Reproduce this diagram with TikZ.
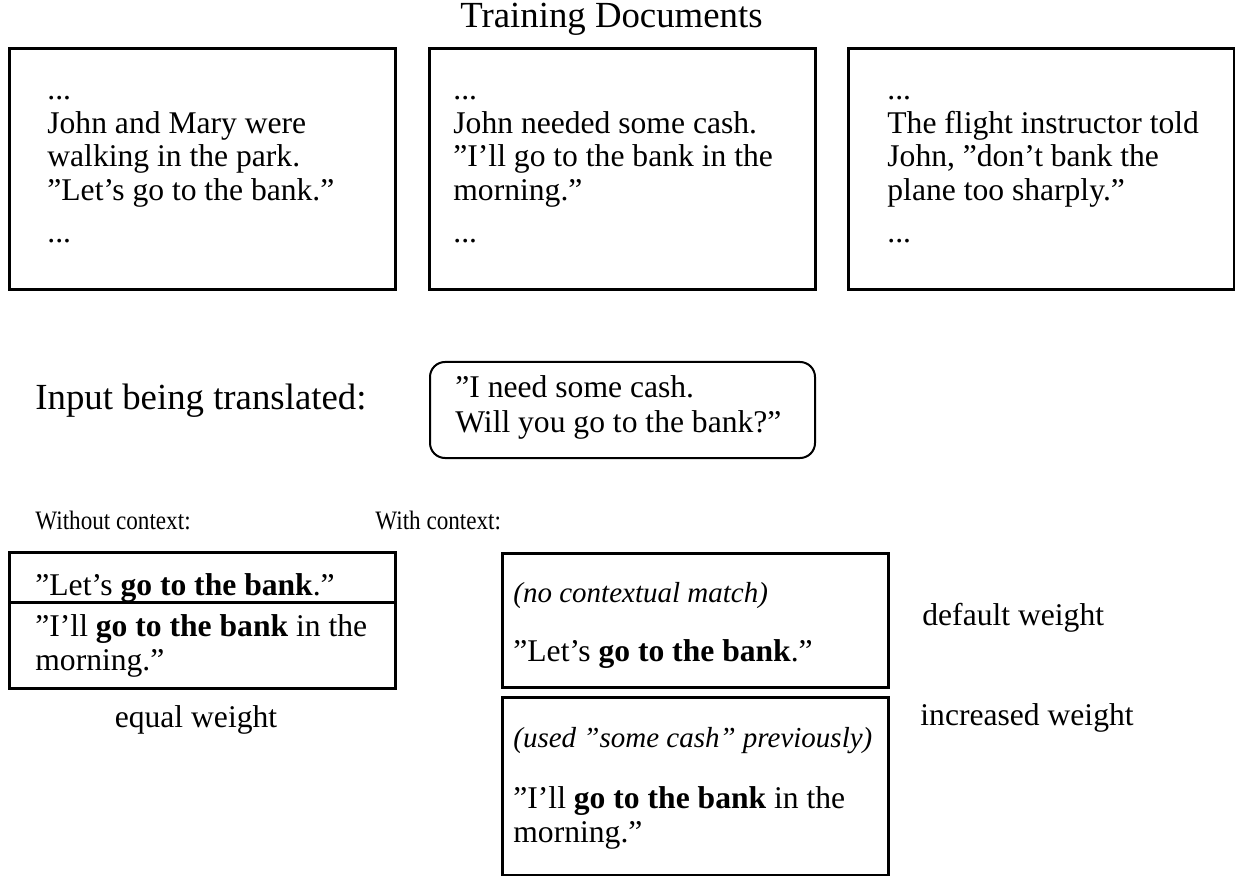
\documentclass[tikz,border=0pt]{standalone}
\usepackage{fontspec}
\setmainfont{Liberation Serif}
\newfontfamily\narrowfont[FakeStretch=0.87]{Liberation Serif}
\usetikzlibrary{positioning, calc}
\tikzset{
  docbox/.style={draw,line width=1.5pt,minimum width=193pt,minimum height=120.5pt,anchor=north west,inner sep=0pt,outer sep=0pt},
  inbox/.style={draw,line width=1pt,rounded corners=7.5pt,minimum width=192.5pt,minimum height=48pt,anchor=north west,inner sep=0pt,outer sep=0pt},
  candbox/.style={draw,line width=1.5pt,minimum width=193pt,anchor=north west,inner sep=0pt,outer sep=0pt},
  txt/.style={anchor=base west,inner sep=0pt,align=left,font=\fontsize{15.8}{16.75}\selectfont},
  note/.style={txt,font=\fontsize{14.5}{16}\selectfont\itshape},
  head/.style={inner sep=0pt,font=\fontsize{18.4}{20}\selectfont},
  small/.style={anchor=base west,inner sep=0pt,font=\narrowfont\fontsize{13.3}{15}\selectfont},
}
\newcommand{\bankphrase}{\textbf{go to the bank}}

\begin{document}
\begin{tikzpicture}[x=0.5pt,y=-0.5pt]
	    \useasboundingbox (0,0) rectangle (1235,876);
	    % training documents
	    \node[docbox] (doc1) at (9.5,49) {};
	    \node[docbox,right=16.75pt of doc1] (doc2) {};
	    \node[docbox,right=16.5pt of doc2] (doc3) {};
	    \node[head,anchor=base] (title) at (611.5,28) {Training Documents};
	    % base of a multi-line node is its last line
	    \node[txt] (doc1txt) at ($(doc1.north west)+(37.5,194)$)
	    	{...\\ John and Mary were\\ walking in the park.\\ ”Let’s go to the bank.”\\[4.5pt] ...};
	    \node[txt] (doc2txt) at ($(doc2.north west)+(24,194)$)
	    	{...\\ John needed some cash.\\ ”I’ll go to the bank in the\\ morning.”\\[4.5pt] ...};
	    \node[txt] (doc3txt) at ($(doc3.north west)+(39,194)$)
	    	{...\\ The flight instructor told\\ John, ”don’t bank the\\ plane too sharply.”\\[4.5pt] ...};
	    % input
	    \node[head,anchor=base west] (inlabel) at (35,410) {Input being translated:};
	    \node[inbox] (inbox) at (430,362) {};
	    \node[txt,font=\fontsize{15.8}{17.5}\selectfont] (intxt) at ($(inbox.north west)+(25,71)$)
	    	{”I need some cash.\\ Will you go to the bank?”};
	    % without context
	    \node[small] (nocxlabel) at (35,529) {Without context:};
	    \node[candbox,minimum height=25pt] (nocx1) at (9.5,552) {};
	    \node[candbox,minimum height=43pt,below=0pt of nocx1] (nocx2) {};
	    \node[txt] (nocx1txt) at ($(nocx1.north west)+(25.5,43)$) {”Let’s \bankphrase.”};
	    \node[txt] (nocx2txt) at ($(nocx2.north west)+(25.5,68)$) {”I’ll \bankphrase{} in the\\ morning.”};
	    \node[txt,anchor=base] (eqw) at (196,727) {equal weight};
	    % with context
	    \node[small] (cxlabel) at (375,529) {With context:};
	    \node[candbox,minimum height=67pt] (cx1) at (502,553) {};
	    \node[candbox,minimum height=89pt,below=5pt of cx1] (cx2) {};
	    \node[note] (cx1note) at ($(cx1.north west)+(11,49)$) {(no contextual match)};
	    \node[txt] (cx1txt) at ($(cx1.north west)+(11,108)$) {”Let’s \bankphrase.”};
	    \node[note] (cx2note) at ($(cx2.north west)+(11,50)$) {(used ”some cash” previously)};
	    \node[txt] (cx2txt) at ($(cx2.north west)+(11,145)$) {”I’ll \bankphrase{} in the\\ morning.”};
	    \node[txt] (dfw) at (922,625) {default weight};
	    \node[txt] (incw) at (920,725) {increased weight};
	\end{tikzpicture}
\end{document}
